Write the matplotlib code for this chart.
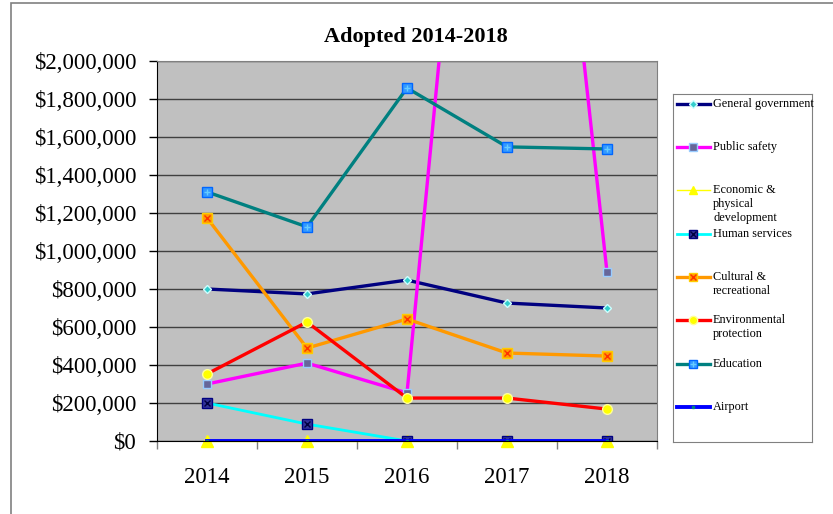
import matplotlib.pyplot as plt
from matplotlib.patches import Rectangle
from matplotlib.ticker import FuncFormatter

plt.rcParams['font.family'] = ['Liberation Serif', 'DejaVu Serif']

years = ['2014', '2015', '2016', '2017', '2018']
general_gov = [800000, 774000, 847000, 726000, 700000]
public_safety = [300000, 410000, 253000, 5700000, 889000]
economic_dev = [0, 0, 0, 0, 0]
human_services = [200000, 89000, 0, 0, 0]
cultural_rec = [1174000, 489000, 642000, 463000, 447000]
environmental = [353000, 626000, 226000, 226000, 168000]
education = [1311000, 1127000, 1858000, 1548000, 1537000]
airport = [0, 0, 0, 0, 0]

labels = ['General government', 'Public safety', 'Economic &\nphysical\ndevelopment',
          'Human services', 'Cultural &\nrecreational', 'Environmental\nprotection',
          'Education', 'Airport']

# (line colour, line width, marker, marker face, marker edge, marker size, overlay marker, overlay colour)
styles = [
    ('#000080', 2.4, 'D', '#33CCCC', '#CCFFFF', 4, None, None),
    ('#FF00FF', 2.4, 's', '#666699', '#99CCFF', 6, None, None),
    ('#FFFF00', 1.0, '^', '#FFFF00', '#FFFF00', 8, None, None),
    ('#00FFFF', 2.0, 's', '#333399', '#000080', 7, 'x', '#000040'),
    ('#FF9900', 2.4, 's', '#FF9900', '#FFCC00', 7, 'x', '#FF3300'),
    ('#FF0000', 2.4, 'o', '#FFFF00', '#FFFF99', 7, None, None),
    ('#008080', 2.4, 's', '#3399FF', '#0066FF', 7, '+', '#66CCFF'),
    ('#0000FF', 2.8, 's', '#008080', '#008080', 2, None, None),
]
series = [general_gov, public_safety, economic_dev, human_services,
          cultural_rec, environmental, education, airport]

W, H = 833, 514
fig = plt.figure(figsize=(W / 100, H / 100), dpi=100)
fig.patches.append(Rectangle((11 / W, -0.2), 1, 1.2 - 3 / H, transform=fig.transFigure,
                             fill=False, edgecolor='#808080', linewidth=1.2))

ax = fig.add_axes([157 / W, (H - 441) / H, 500 / W, 380 / H])
ax.set_facecolor('#C0C0C0')
x = range(len(years))
for i, (vals, st) in enumerate(zip(series, styles)):
    lc, lw, m, mf, me, ms, om, oc = st
    ax.plot(x, vals, color=lc, linewidth=lw, marker=m, markerfacecolor=mf,
            markeredgecolor=me, markersize=ms, markeredgewidth=1,
            clip_on=(i != 2))
    if om:
        ax.plot(x, vals, linestyle='none', marker=om, color=oc, markersize=ms - 2,
                markeredgewidth=1)

ax.set_xlim(-0.5, 4.5)
ax.set_ylim(0, 2000000)
ax.set_yticks(range(0, 2000001, 200000))
ax.yaxis.set_major_formatter(FuncFormatter(lambda v, p: '${:,.0f}'.format(v)))
ax.set_xticks(list(x))
ax.set_xticklabels(years)
ax.set_xticks([i - 0.5 for i in range(6)], minor=True)
ax.tick_params(axis='x', which='major', length=0, pad=19, labelsize=16.5)
ax.tick_params(axis='x', which='minor', length=6, width=1, color='#808080')
ax.tick_params(axis='y', length=6, width=1, pad=9, labelsize=16.5)
ax.grid(axis='y', color='#404040', linewidth=1)
ax.set_axisbelow(True)
for s in ['left', 'bottom']:
    ax.spines[s].set_color('black')
for s in ['top', 'right']:
    ax.spines[s].set_color('#808080')

fig.text(416 / W, 1 - 37 / H, 'Adopted 2014-2018', ha='center', va='center',
         fontsize=16, fontweight='bold')

# legend box, Excel style with fixed row spacing
lax = fig.add_axes([673 / W, (H - 442) / H, 139 / W, 348 / H])
lax.set_xlim(0, 139)
lax.set_ylim(348, 0)
lax.set_xticks([])
lax.set_yticks([])
for s in lax.spines.values():
    s.set_color('#808080')
rows = [10, 53, 96, 140, 183, 226, 270, 313]
for y, lab, st in zip(rows, labels, styles):
    lc, lw, m, mf, me, ms, om, oc = st
    lax.plot([4, 37], [y, y], color=lc, linewidth=lw)
    lax.plot([20], [y], marker=m, markerfacecolor=mf, markeredgecolor=me,
             markersize=min(ms, 6), markeredgewidth=1)
    if om:
        lax.plot([20], [y], marker=om, color=oc, markersize=4, markeredgewidth=1)
    lax.text(40, y - 6, lab, fontsize=8.8, va='top', ha='left', linespacing=1.2,
             clip_on=False)

fig.savefig('out.png', dpi=100)
